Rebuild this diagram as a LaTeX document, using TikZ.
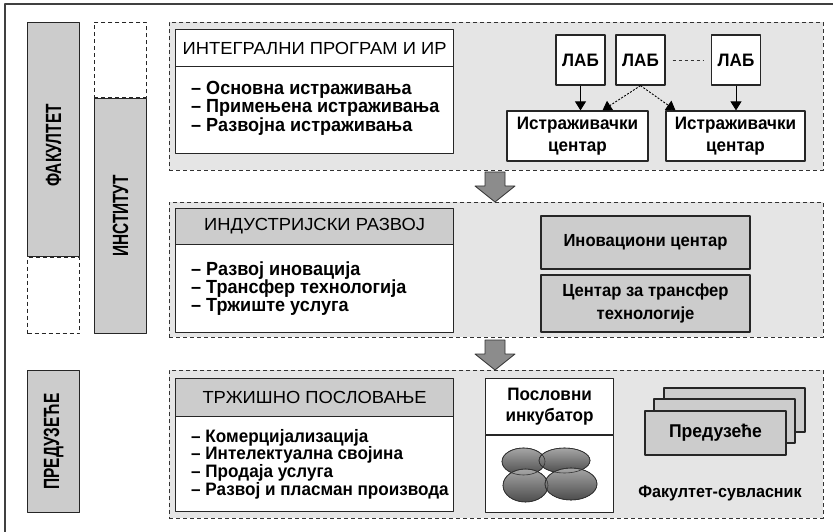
\documentclass[tikz,border=0pt]{standalone}
\usepackage{fontspec}
\setmainfont{Liberation Sans}[FakeStretch=0.95]
\newfontfamily\hdrfamily{Liberation Sans}[FakeStretch=1.05]
\newfontfamily\narrowfamily{Liberation Sans}[FakeStretch=0.7]
\usetikzlibrary{arrows.meta,positioning}

\tikzset{
  panel/.style={draw=black!80, dash pattern=on 4pt off 3pt, line width=0.9pt, fill=black!10,
    minimum width=654pt, anchor=north west},
  boxw/.style={draw=black!85, line width=1.2pt, fill=white, inner sep=0pt},
  boxg/.style={boxw, fill=black!20},
  boxd/.style={boxw, dash pattern=on 4pt off 3pt, line width=0.9pt},
  hdr/.style={minimum width=278pt, font=\hdrfamily\fontsize{17.5}{18}\selectfont},
  lst/.style={anchor=west, align=left, inner sep=0pt, font=\fontsize{19}{17}\selectfont\bfseries},
  vlab/.style={rotate=90, font=\narrowfamily\fontsize{22}{22}\selectfont\bfseries},
  lab/.style={boxw, minimum width=49pt, minimum height=50pt, font=\fontsize{18}{18}\selectfont\bfseries},
  ctr/.style={boxw, align=center, font=\fontsize{18}{22}\selectfont\bfseries},
  blob/.style={draw=black!80, line width=0.6pt, top color=black!35, bottom color=black!70},
  tri/.style={-{Triangle[width=11pt,length=9pt]}, line width=0.9pt}
}

\begin{document}
\begin{tikzpicture}[x=1pt, y=-1pt, line join=round, line cap=butt]
\useasboundingbox (0,0) rectangle (833,532);
% outer frame (only top and left visible)
\draw[black!75, line width=1.6pt] (5,532) -- (5,4) -- (833,4);

% left columns
\node[boxg, minimum width=52pt, minimum height=234pt, anchor=north west] (fak) at (27,22) {};
\node[boxd, minimum width=52pt, minimum height=76pt, anchor=north] (fakd) at (fak.south) {};
\node[vlab] at ([yshift=-6pt]fak.center) {ФАКУЛТЕТ};
\node[boxd, minimum width=52pt, minimum height=75pt, anchor=north west] (instd) at (94,22) {};
\node[boxg, minimum width=52pt, minimum height=235pt, anchor=north] (inst) at (instd.south) {};
\node[vlab] at (inst.center) {ИНСТИТУТ};
\node[boxg, minimum width=52pt, minimum height=142pt, anchor=north west] (pred) at (27,370) {};
\node[vlab] at (pred.center) {ПРЕДУЗЕЋЕ};

% panels
\node[panel, minimum height=148pt] (p1) at (169,22) {};
\node[panel, minimum height=135pt] (p2) at (169,202) {};
\node[panel, minimum height=148pt] (p3) at (169,370) {};

% block arrows between panels
\foreach \ya/\yb in {172/202, 340/370}
  \draw[draw=black!80, fill=black!45, line width=0.8pt]
    (485,\ya) -- (505,\ya) -- (505,\yb-16) -- (515,\yb-16) -- (495,\yb)
    -- (475,\yb-16) -- (485,\yb-16) -- cycle;

% panel 1
\node[boxw, hdr, minimum height=37pt, anchor=north west] (ip) at (175,29) {ИНТЕГРАЛНИ ПРОГРАМ И ИР};
\node[boxw, minimum width=278pt, minimum height=87pt, anchor=north west] (ipb) at (175,66) {};
\node[lst] (ipl) at ([xshift=16pt,yshift=2pt]ipb.west) {– Основна истраживања\\– Примењена истраживања\\– Развојна истраживања};

\node[lab] (lab1) at (580.5,60) {ЛАБ};
\node[lab] (lab2) at (640.5,60) {ЛАБ};
\node[lab] (lab3) at (736,60) {ЛАБ};
\draw[black!80, line width=0.9pt, dash pattern=on 3pt off 3pt, shorten <=7pt, shorten >=7pt] (lab2) -- (lab3);
\node[ctr, minimum width=141pt, minimum height=50pt] (ic1) at (577.5,136) {Истраживачки\\центар};
\node[ctr, minimum width=139pt, minimum height=50pt] (ic2) at (735.5,136) {Истраживачки\\центар};
\draw[tri] (lab1.south) -- (lab1.south |- ic1.north);
\draw[tri] (lab3.south) -- (lab3.south |- ic2.north);
\draw[tri, dash pattern=on 2pt off 1.5pt] (lab2.south) -- ([xshift=25pt]ic1.north);
\draw[tri, dash pattern=on 2pt off 1.5pt] (lab2.south) -- ([xshift=-60pt]ic2.north);

% panel 2
\node[boxg, hdr, minimum height=36pt, anchor=north west] (ir) at (175,208) {ИНДУСТРИЈСКИ РАЗВОЈ};
\node[boxw, minimum width=278pt, minimum height=88pt, anchor=north west] (irb) at (175,244) {};
\node[lst] (irl) at ([xshift=16pt]irb.west) {– Развој иновација\\– Трансфер технологија\\– Тржиште услуга};
\node[ctr, boxg, minimum width=209pt, minimum height=53pt, font=\fontsize{17.5}{22}\selectfont\bfseries] (inov) at (645.5,242.5) {Иновациони центар};
\node[ctr, boxg, minimum width=209pt, minimum height=57pt, font=\fontsize{17.5}{23}\selectfont\bfseries] (tt) at (645.5,303.5) {Центар за трансфер\\технологије};

% panel 3
\node[boxg, hdr, minimum height=38pt, anchor=north west] (tp) at (175,378) {ТРЖИШНО ПОСЛОВАЊЕ};
\node[boxw, minimum width=278pt, minimum height=95pt, anchor=north west] (tpb) at (175,416) {};
\node[lst, font=\fontsize{18}{16}\selectfont\bfseries] (tpl) at ([xshift=16pt]tpb.west) {– Комерцијализација\\– Интелектуална својина\\– Продаја услуга\\– Развој и пласман производа};

\node[ctr, minimum width=128pt, minimum height=56pt, anchor=north west, font=\fontsize{18}{21}\selectfont\bfseries] (inc) at (485,378) {Пословни\\инкубатор};
\node[boxw, minimum width=128pt, minimum height=77pt, anchor=north] (incb) at (inc.south) {};
\fill[blob] (523.5,461.5) ellipse [x radius=21.5, y radius=13.5];
\fill[blob] (564.5,460.5) ellipse [x radius=25.5, y radius=12.5];
\fill[blob] (525.5,485.5) ellipse [x radius=22.5, y radius=16.5];
\fill[blob] (571,484) ellipse [x radius=26, y radius=16];
\draw[black!80, line width=0.6pt] (523.5,461.5) ellipse [x radius=21.5, y radius=13.5]
  (564.5,460.5) ellipse [x radius=25.5, y radius=12.5];
\draw[black!80, line width=0.6pt] (525.5,485.5) ellipse [x radius=22.5, y radius=16.5]
  (571,484) ellipse [x radius=26, y radius=16];

\foreach \dx/\dy in {19/-23, 9/-12}
  \node[boxg, minimum width=141pt, minimum height=44pt] at (715.5+\dx,433+\dy) {};
\node[boxg, minimum width=141pt, minimum height=44pt, font=\fontsize{18.5}{20}\selectfont\bfseries] (pz) at (715.5,433) {Предузеће};
\node[font=\fontsize{17}{18}\selectfont\bfseries] (fs) at (720,493) {Факултет-сувласник};
\end{tikzpicture}
\end{document}
